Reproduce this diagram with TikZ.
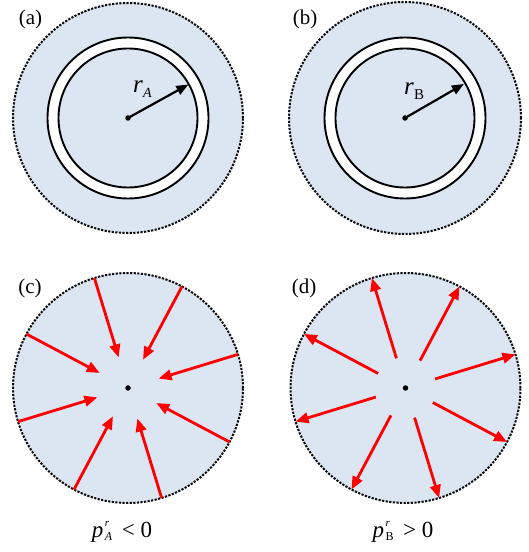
\documentclass[tikz,border=0pt]{standalone}
\usepackage{fontspec}
\setmainfont{Liberation Serif}
\usetikzlibrary{arrows.meta,calc}
\definecolor{bluefill}{RGB}{220,230,242}
\definecolor{dotgray}{RGB}{10,10,10}
\begin{document}
\begin{tikzpicture}[x=1pt,y=1pt,
  disk/.style={fill=bluefill, draw=dotgray, line width=2pt, dash pattern=on 2.2pt off 1.4pt},
  ringline/.style={draw=black, line width=1.9pt},
  redarrow/.style={draw=red, line width=2.8pt, -{Triangle[length=13pt,width=10.5pt]}},
  blackarrow/.style={draw=black, line width=2.2pt, -{Triangle[length=12pt,width=9.5pt]}},
  dotc/.style={circle, fill=black, inner sep=0pt, minimum size=5.5pt},
  panellabel/.style={font=\fontsize{21}{25}\selectfont, inner sep=0pt},
  mathlabel/.style={anchor=base, inner sep=0pt, font=\fontsize{23}{26}\selectfont}]
\useasboundingbox (0,0) rectangle (529,552);
% centres
\coordinate (A) at (128,434);
\coordinate (B) at (405,434);
\coordinate (C) at (128,164);
\coordinate (D) at (405.5,164);
% outer dotted disks
\draw[disk] (A) circle (115);
\draw[disk] (B) circle (116);
\draw[disk] (C) circle (115);
\draw[disk] (D) circle (115);
% rings in (a) and (b)
\foreach \P in {A,B}{
  \fill[white] (\P) circle (80.5);
  \fill[bluefill] (\P) circle (69.5);
  \draw[ringline] (\P) circle (80.5);
  \draw[ringline] (\P) circle (69.5);
}
% radius arrows
\coordinate (tA) at ($(A)+(29:69)$);
\coordinate (tB) at ($(B)+(30:68)$);
\draw[blackarrow] (A) -- (tA);
\draw[blackarrow] (B) -- (tB);
% red arrows
\foreach \a [count=\i] in {17,62,...,332}{
  \coordinate (cs\i) at ($(C)+(\a:115)$);
  \coordinate (ce\i) at ($(C)+(\a:32)$);
  \draw[redarrow] (cs\i) -- (ce\i);
  \coordinate (ds\i) at ($(D)+(\a:31)$);
  \coordinate (de\i) at ($(D)+(\a:115)$);
  \draw[redarrow] (ds\i) -- (de\i);
}
% centre dots
\node[dotc] (cA) at (A) {};
\node[dotc] (cB) at (B) {};
\node[dotc] (cC) at (C) {};
\node[dotc] (cD) at (D) {};
% panel labels
\node[panellabel] (la) at (30.5,533) {(a)};
\node[panellabel] (lb) at (305,533) {(b)};
\node[panellabel] (lc) at (30,264) {(c)};
\node[panellabel] (ld) at (304,264) {(d)};
% radius labels
\node[anchor=base west, inner sep=0pt] (rA) at (133,459)
  {\fontsize{25}{28}\selectfont\textit{r}\raisebox{-5pt}{\fontsize{14}{16}\selectfont\textit{A}}};
\node[anchor=base west, inner sep=0pt] (rB) at (404,457)
  {\fontsize{25}{28}\selectfont\textit{r}\raisebox{-5pt}{\fontsize{15}{16}\selectfont B}};
% bottom labels
\node[mathlabel] (pA) at (122,14)
  {\textit{p}\kern1.5pt\makebox[0pt][l]{\raisebox{11pt}{\fontsize{11}{11}\selectfont\textit{r}}}\raisebox{-3pt}{\fontsize{12}{12}\selectfont\textit{A}}\, < 0};
\node[mathlabel] (pB) at (403,14)
  {\textit{p}\kern1.5pt\makebox[0pt][l]{\raisebox{11pt}{\fontsize{11}{11}\selectfont\textit{r}}}\raisebox{-3pt}{\fontsize{12}{12}\selectfont B}\, > 0};
\end{tikzpicture}
\end{document}
